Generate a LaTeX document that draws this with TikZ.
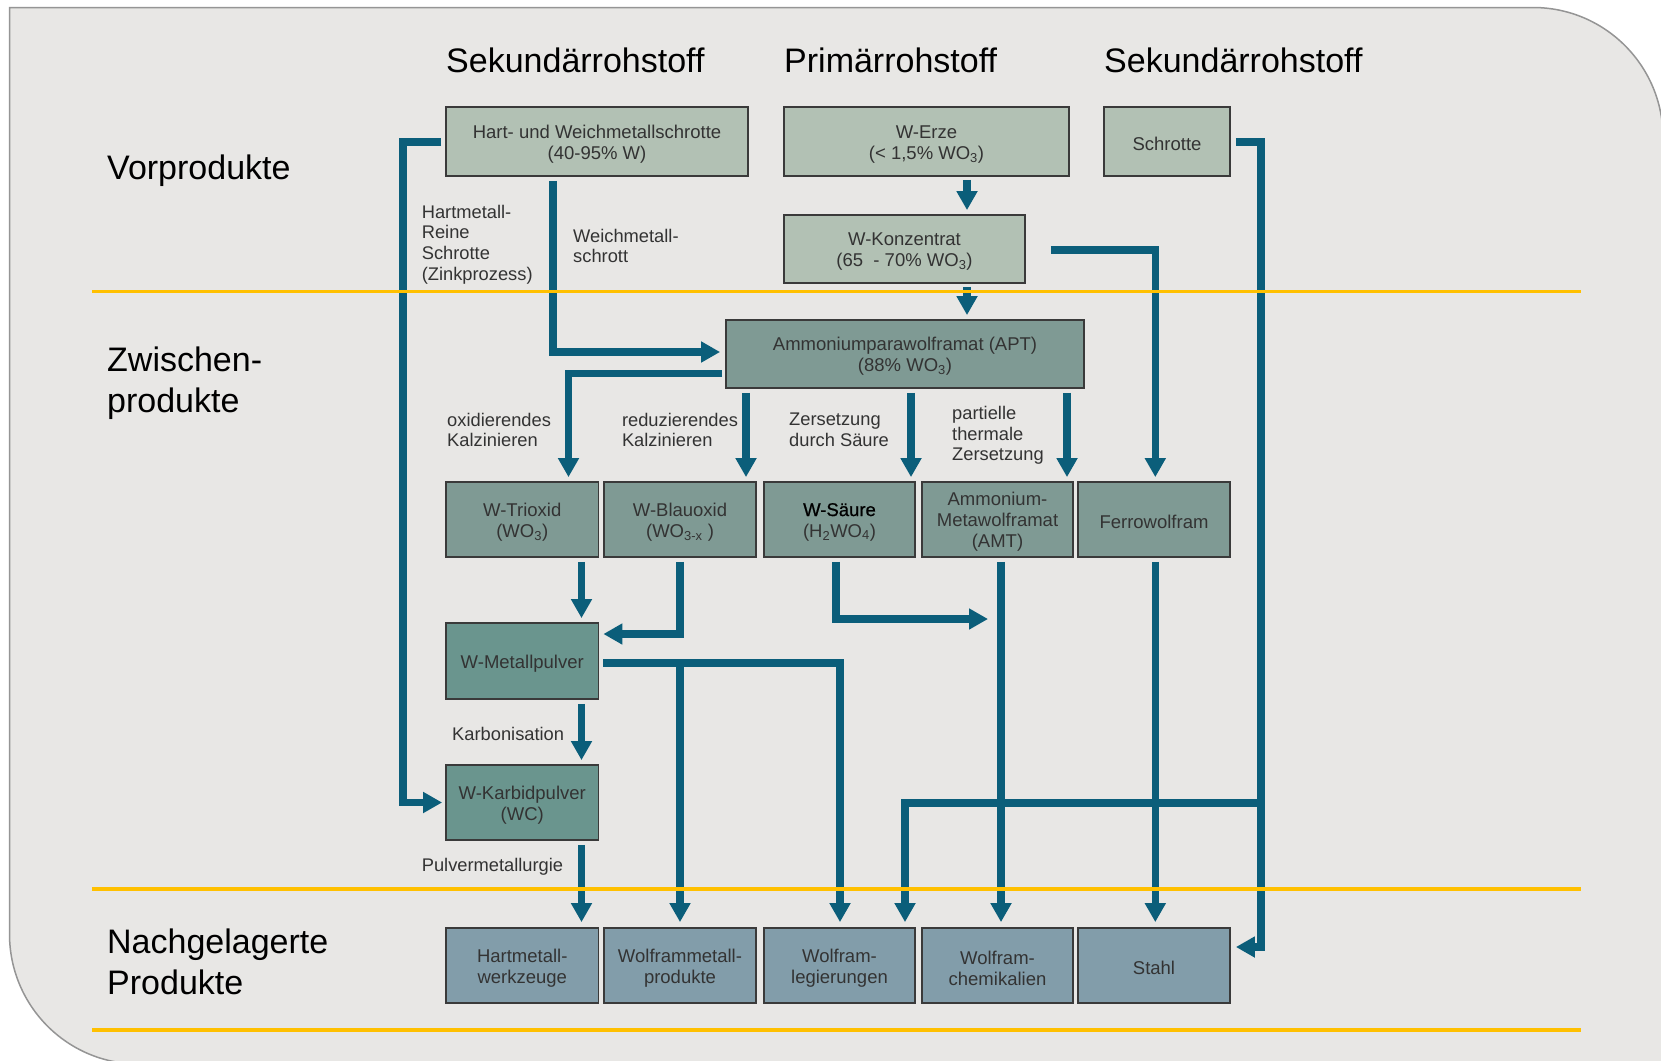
\documentclass[tikz,border=0pt]{standalone}
\usepackage{fontspec}
\setmainfont{Liberation Sans}
\newfontfamily\semibold[FakeBold=0.8]{Liberation Sans}
\usetikzlibrary{arrows.meta,calc}
\definecolor{bg}{HTML}{E8E7E5}
\definecolor{edge}{HTML}{959595}
\definecolor{gelb}{HTML}{FFC000}
\definecolor{flowc}{HTML}{0B5E7A}
\definecolor{boxline}{HTML}{3A3A3A}
\definecolor{txt}{HTML}{333333}
\definecolor{cA}{HTML}{B2C1B4}
\definecolor{cB}{HTML}{7F9A94}
\definecolor{cC}{HTML}{6A958E}
\definecolor{cD}{HTML}{829DAA}
\newcommand{\bt}{\rule{0pt}{17.9pt}}
\newcommand{\btlow}{\rule{0pt}{19.5pt}}
\begin{document}
\begin{tikzpicture}[x=1pt,y=-1pt,
  box/.style={draw=boxline,line width=1.8pt,inner sep=0pt,align=center,
    font=\fontsize{18.5}{21}\selectfont,text=txt},
  flow/.style={draw=flowc,line width=7.5pt,-{Triangle[width=20pt,length=19pt]}},
  lbl/.style={inner sep=0pt,align=left,font=\fontsize{18.3}{20.7}\selectfont,text=txt},
  head/.style={inner sep=0pt,font=\fontsize{34}{41}\selectfont,text=black},
  side/.style={inner sep=0pt,align=left,font=\fontsize{34}{41}\selectfont,text=black},
  gline/.style={draw=gelb,line width=3.5pt}
]
\useasboundingbox (0,0) rectangle (1661,1060);
\clip (0,0) rectangle (1661,1060);
\fill[white] (0,0) rectangle (1661,1060);
\draw[fill=bg,draw=edge,line width=1.5pt] (9.5,7.5) -- (1533,7.5)
  .. controls (1604.8,7.5) and (1663,65.7) .. (1663,137.5) -- (1663,1064) -- (139,1064)
  .. controls (67.2,1064) and (9.5,1005.8) .. (9.5,934) -- cycle;

% headers
\node[head,anchor=west] (h1) at (446,60) {Sekundärrohstoff};
\node[head,anchor=west] (h2) at (784,60) {Primärrohstoff};
\node[head,anchor=west] (h3) at (1104,60) {Sekundärrohstoff};
\node[side,anchor=west] (s1) at (107,171) {Vorprodukte};
\node[side,anchor=west] (s2) at (107,383.5) {Zwischen-\\produkte};
\node[side,anchor=west] (s3) at (107,962) {Nachgelagerte\\Produkte};

% boxes row 1
\node[box,fill=cA,minimum width=302pt,minimum height=69pt] (hart) at (597,141.5) {\bt Hart- und Weichmetallschrotte\\(40-95\% W)};
\node[box,fill=cA,minimum width=285pt,minimum height=69pt] (erze) at (926.5,141.5) {\bt W-Erze\\(< 1,5\% WO\textsubscript{3})};
\node[box,fill=cA,minimum width=126pt,minimum height=69pt] (schrotte) at (1167,141.5) {\bt Schrotte};
\node[box,fill=cA,minimum width=241pt,minimum height=68pt] (konz) at (904.5,249) {\bt W-Konzentrat\\(65\ \ - 70\% WO\textsubscript{3})};
\node[box,fill=cB,minimum width=358pt,minimum height=68pt] (apt) at (905,354) {\bt Ammoniumparawolframat (APT)\\(88\% WO\textsubscript{3})};

% row 2
\node[box,fill=cB,minimum width=152.5pt,minimum height=75pt] (trioxid) at (522.25,519.5) {\bt W-Trioxid\\(WO\textsubscript{3})};
\node[box,fill=cB,minimum width=152pt,minimum height=75pt] (blau) at (680,519.5) {\bt W-Blauoxid\\(WO\textsubscript{3-x} )};
\node[box,fill=cB,minimum width=151pt,minimum height=75pt] (saeure) at (839.5,519.5) {\bt\textcolor{black}{\semibold W-Säure}\\(H\textsubscript{2}WO\textsubscript{4})};
\node[box,fill=cB,minimum width=151pt,minimum height=75pt] (amt) at (997.5,519.5) {\bt Ammonium-\\Metawolframat\\(AMT)};
\node[box,fill=cB,minimum width=152pt,minimum height=75pt] (ferro) at (1154,519.5) {\bt Ferrowolfram};

\node[box,fill=cC,minimum width=152.5pt,minimum height=76pt] (metall) at (522.25,661) {\bt W-Metallpulver};
\node[box,fill=cC,minimum width=152.5pt,minimum height=75pt] (karbid) at (522.25,802.5) {\bt W-Karbidpulver\\(WC)};

% bottom row
\node[box,fill=cD,minimum width=152.5pt,minimum height=75pt] (hwz) at (522.25,965.5) {\bt Hartmetall-\\werkzeuge};
\node[box,fill=cD,minimum width=152pt,minimum height=75pt] (wmp) at (680,965.5) {\bt Wolframmetall-\\produkte};
\node[box,fill=cD,minimum width=151pt,minimum height=75pt] (leg) at (839.5,965.5) {\bt Wolfram-\\legierungen};
\node[box,fill=cD,minimum width=151pt,minimum height=75pt] (chem) at (997.5,965.5) {\btlow Wolfram-\\chemikalien};
\node[box,fill=cD,minimum width=152pt,minimum height=75pt] (stahl) at (1154,965.5) {\bt Stahl};

% labels
\node[lbl,anchor=west] (l1) at (421.6,244.5) {Hartmetall-\\Reine\\Schrotte\\(Zinkprozess)};
\node[lbl,anchor=west] (l2) at (573,246) {Weichmetall-\\schrott};
\node[lbl,anchor=west] (l3) at (447,430) {oxidierendes\\Kalzinieren};
\node[lbl,anchor=west] (l4) at (621.8,430) {reduzierendes\\Kalzinieren};
\node[lbl,anchor=west] (l5) at (789,430) {Zersetzung\\durch Säure};
\node[lbl,anchor=west] (l6) at (952,435.5) {partielle\\thermale\\Zersetzung};
\node[lbl,anchor=west] (l7) at (452,734) {Karbonisation};
\node[lbl,anchor=west] (l8) at (421.6,866.5) {Pulvermetallurgie};

% column coordinates
\coordinate (xH) at (403,0);
\coordinate (xW) at (553,0);
\coordinate (xT) at (568.5,0);
\coordinate (xA) at (581.5,0);
\coordinate (xB) at (680,0);
\coordinate (xB2) at (746,0);
\coordinate (xC) at (835.8,0);
\coordinate (xL) at (840,0);
\coordinate (xK) at (905,0);
\coordinate (xS2) at (911,0);
\coordinate (xE) at (967,0);
\coordinate (xD) at (1001,0);
\coordinate (xM2) at (1067,0);
\coordinate (xF) at (1155.3,0);
\coordinate (xS) at (1261,0);
\coordinate (yJ) at (0,803);
\coordinate (sEnd) at (988,619);

% connectors
\draw[flow] ($(hart.west)+(-4,0.5)$) -| ($(karbid.west -| xH)$) -- ($(karbid.west)+(-3,0)$);
\draw[flow] ($(hart.south -| xW)+(0,4)$) |- ($(apt.west)+(-5,-2)$);
\draw[flow] ($(apt.west)+(-3,19.5)$) -| ($(trioxid.north -| xT)+(0,-4)$);
\draw[flow] ($(apt.south -| xB2)+(0,4)$) -- ($(blau.north -| xB2)+(0,-4)$);
\draw[flow] ($(apt.south -| xS2)+(0,4)$) -- ($(saeure.north -| xS2)+(0,-4)$);
\draw[flow] ($(apt.south -| xM2)+(0,4)$) -- ($(amt.north -| xM2)+(0,-4)$);
\draw[flow] ($(erze.south -| xE)+(0,3)$) -- ($(konz.north -| xE)+(0,-4)$);
\draw[flow] ($(konz.south -| xE)+(0,3)$) -- ($(apt.north -| xE)+(0,-4)$);
\draw[flow] ($(konz.east)+(25,1)$) -| ($(ferro.north -| xF)+(0,-4)$);
\draw[flow] ($(schrotte.east)+(5,0.5)$) -| ($(stahl.east -| xS)+(0,-18.5)$) -- ($(stahl.east)+(5,-18.5)$);
\draw[flow] (xS |- yJ) -| ($(leg.north -| xK)+(0,-5)$);
\draw[flow] ($(trioxid.south -| xA)+(0,4)$) -- ($(metall.north -| xA)+(0,-4)$);
\draw[flow] ($(blau.south -| xB)+(0,4)$) |- ($(metall.east)+(4,-27)$);
\draw[flow] ($(saeure.south -| xC)+(0,4)$) |- (sEnd);
\draw[flow] ($(amt.south -| xD)+(0,4)$) -- ($(chem.north -| xD)+(0,-5)$);
\draw[flow] ($(ferro.south -| xF)+(0,4)$) -- ($(stahl.north -| xF)+(0,-5)$);
\draw[flow] ($(metall.east)+(4,2)$) -| ($(leg.north -| xL)+(0,-5)$);
\draw[flow] ($(metall.east -| xB)+(0,2)$) -- ($(wmp.north -| xB)+(0,-5)$);
\draw[flow] ($(metall.south -| xA)+(0,4)$) -- ($(karbid.north -| xA)+(0,-4)$);
\draw[flow] ($(karbid.south -| xA)+(0,4)$) -- ($(hwz.north -| xA)+(0,-5)$);

% yellow separators
\draw[gline] (92,291.5) -- (1581,291.5);
\draw[gline] (92,889) -- (1581,889);
\draw[gline] (92,1030) -- (1581,1030);
\end{tikzpicture}
\end{document}
